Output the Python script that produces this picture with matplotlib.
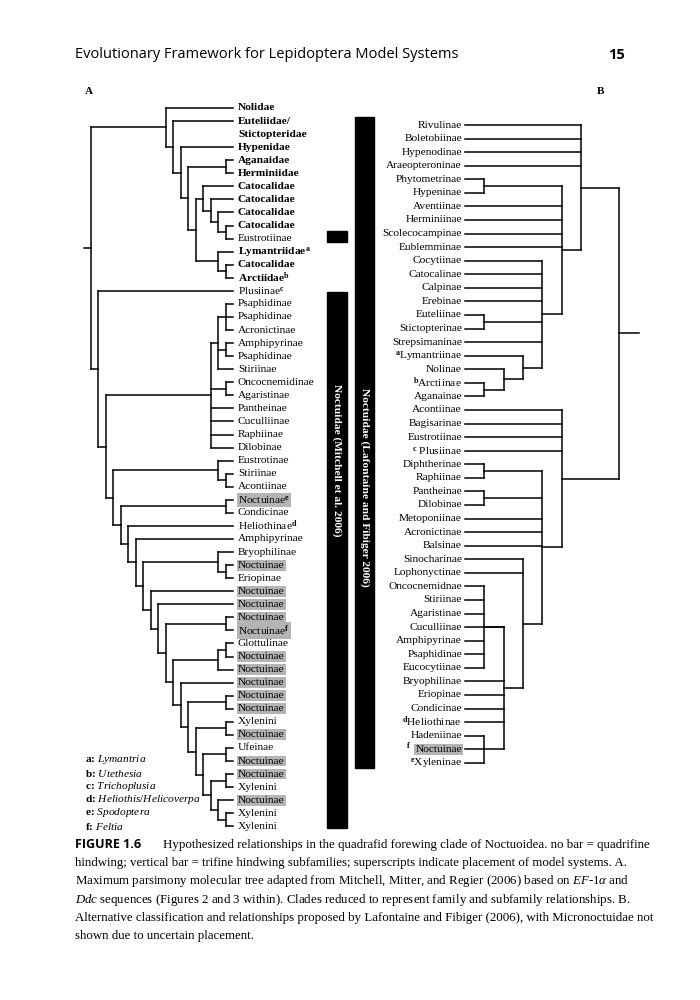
import matplotlib
matplotlib.use("Agg")
import matplotlib.pyplot as plt

plt.rcParams['mathtext.fontset'] = 'custom'
plt.rcParams['mathtext.rm'] = 'Liberation Serif'
plt.rcParams['mathtext.it'] = 'Liberation Serif:italic'
plt.rcParams['mathtext.bf'] = 'Liberation Serif:bold'

SERIF = 'Liberation Serif'

# ---------------- data: tree A (Mitchell et al. 2006) ----------------
labels_a = ["Nolidae", "Euteliidae/", "Stictopteridae", "Hypenidae", "Aganaidae", "Herminiidae",
            "Catocalidae", "Catocalidae", "Catocalidae", "Catocalidae", "Eustrotiinae",
            r"Lymantriidae$^{\mathbf{a}}$", "Catocalidae", r"Arctiidae$^{\mathbf{b}}$",
            r"Plusiinae$^{\mathbf{c}}$", "Psaphidinae", "Psaphidinae", "Acronictinae", "Amphipyrinae",
            "Psaphidinae", "Stiriinae", "Oncocnemidinae", "Agaristinae", "Pantheinae", "Cuculliinae",
            "Raphiinae", "Dilobinae", "Eustrotinae", "Stiriinae", "Acontiinae",
            r"Noctuinae$^{\mathbf{e}}$", "Condicinae", r"Heliothinae$^{\mathbf{d}}$", "Amphipyrinae",
            "Bryophilinae", "Noctuinae", "Eriopinae", "Noctuinae", "Noctuinae", "Noctuinae",
            r"Noctuinae$^{\mathbf{f}}$", "Glottulinae", "Noctuinae", "Noctuinae", "Noctuinae",
            "Noctuinae", "Noctuinae", "Xylenini", "Noctuinae", "Ufeinae", "Noctuinae", "Noctuinae",
            "Xylenini", "Noctuinae", "Xylenini", "Xylenini"]
bold_a = set(range(0, 14)) - {10}
gray_a = {30, 35, 37, 38, 39, 40, 42, 43, 44, 45, 46, 48, 50, 51, 53}

clade1 = [0, [1, [3, [[4, 5], [[6, [7, [8, [9, 10]]]], [11, [12, 13]]]]]]]
g15 = [[[15, 16, 17], [18, 19], 20], [21, 22], 23, 24, 25, 26]
P = [53, [54, 55]]
O = [[51, 52], P]
N = [[49, 50], O]
M = [[47, 48], N]
L = [[45, 46], M]
K = [44, L]
J = [[[41, 42], 43], K]
I = [[39, 40], J]
H = [38, I]
G = [37, H]
F = [[34, [35, 36]], G]
E = [33, F]
D = [32, E]
C = [[30, 31], D]
B = [[27, [28, 29]], C]
A = [g15, B]
clade2 = [14, A]
tree_a = [clade1, clade2]

# ---------------- data: tree B (Lafontaine & Fibiger 2006) ----------------
labels_b = ["Rivulinae", "Boletobiinae", "Hypenodinae", "Araeopteroninae", "Phytometrinae", "Hypeninae",
            "Aventiinae", "Herminiinae", "Scolecocampinae", "Eublemminae", "Cocytiinae", "Catocalinae",
            "Calpinae", "Erebinae", "Euteliinae", "Stictopterinae", "Strepsimaninae",
            r"$^{\mathbf{a}}$Lymantriinae", "Nolinae", r"$^{\mathbf{b}}$Arctiinae", "Aganainae",
            "Acontiinae", "Bagisarinae", "Eustrotiinae", r"$^{\mathbf{c}}$ Plusiinae", "Diphtherinae",
            "Raphiinae", "Pantheinae", "Dilobinae", "Metoponiinae", "Acronictinae", "Balsinae",
            "Sinocharinae", "Lophonyctinae", "Oncocnemidnae", "Stiriinae", "Agaristinae", "Cuculliinae",
            "Amphipyrinae", "Psaphidinae", "Eucocytiinae", "Bryophilinae", "Eriopinae", "Condicinae",
            r"$^{\mathbf{d}}$Heliothinae", "Hadeniinae", r"$^{\mathbf{f}}$", r"$^{\mathbf{e}}$Xyleninae"]
gray_b = {46}
Zb = [17, [18, [19, 20]]]
Yb = [10, 11, 12, 13, [14, 15], 16, Zb]
Xb = [[4, 5], 6, 7, 8, 9, Yb]
top_b = [0, 1, 2, 3, Xb]
Sb = [34, 35, 36, 38, 39, 40]
Rb = [45, 46, 47]
Tb = [37, Sb, 41, 42, 43, 44, Rb]
Ub = [32, 33, Tb]
Vb = [[25, 26], [27, 28], 29, 30, 31, Ub]
Qb = [21, 22, 23, 24, Vb]
tree_b = [top_b, Qb]

footnotes = [("a", "Lymantria"), ("b", "Utethesia"), ("c", "Trichoplusia"),
             ("d", "Heliothis/Helicoverpa"), ("e", "Spodoptera"), ("f", "Feltia")]

caption = [
    r"Hypothesized relationships in the quadrafid forewing clade of Noctuoidea. no bar = quadrifine",
    r"hindwing; vertical bar = trifine hindwing subfamilies; superscripts indicate placement of model systems. A.",
    r"Maximum parsimony molecular tree adapted from Mitchell, Mitter, and Regier (2006) based on $\it{EF}$-$\it{1\alpha}$ and",
    r"$\it{Ddc}$ sequences (Figures 2 and 3 within). Clades reduced to represent family and subfamily relationships. B.",
    r"Alternative classification and relationships proposed by Lafontaine and Fibiger (2006), with Micronoctuidae not",
    r"shown due to uncertain placement.",
]

# ---------------- figure ----------------
fig = plt.figure(figsize=(7, 10), dpi=100)
ax = fig.add_axes([0, 0, 1, 1])
ax.set_xlim(0, 700)
ax.set_ylim(1000, 0)
ax.axis('off')
LW = 1.1


def draw_tree(ax, tree, ypos, tip, step, root_extra=0, stub=7):
    def rec(node):
        if isinstance(node, int):
            return ypos(node), 0
        res = [rec(c) for c in node]
        h = max(r[1] for r in res) + 1
        ys = [r[0] for r in res]
        x = tip + h * step
        ax.plot([x, x], [min(ys), max(ys)], color='black', lw=LW, solid_capstyle='projecting')
        for (cy, ch) in res:
            ax.plot([x, tip + ch * step], [cy, cy], color='black', lw=LW)
        return (min(ys) + max(ys)) / 2, h
    res = [rec(c) for c in tree]
    h = max(r[1] for r in res) + 1 + root_extra
    ys = [r[0] for r in res]
    x = tip + h * step
    ax.plot([x, x], [min(ys), max(ys)], color='black', lw=LW)
    for (cy, ch) in res:
        ax.plot([x, tip + ch * step], [cy, cy], color='black', lw=LW)
    ry = (min(ys) + max(ys)) / 2
    ax.plot([x, x + (stub if step > 0 else -stub)], [ry, ry], color='black', lw=LW)


# tree A
ya = lambda i: 108 + i * 13.06
draw_tree(ax, tree_a, ya, 233, -7.5)
for i, lab in enumerate(labels_a):
    kw = dict(fontsize=8.2, family=SERIF, va='center', ha='left',
              fontweight='bold' if i in bold_a else 'normal')
    if i in gray_a:
        kw['bbox'] = dict(boxstyle='square,pad=0.08', fc='#b4b4b4', ec='none')
    ax.text(238, ya(i), lab, **kw)

# tree B
yb = lambda i: 125 + i * 13.57
draw_tree(ax, tree_b, yb, 465, 19.3, root_extra=1, stub=20)
for i, lab in enumerate(labels_b):
    if i == 46:
        ax.text(462, yb(i), "Noctuinae", fontsize=8.2, family=SERIF, va='center', ha='right',
                bbox=dict(boxstyle='square,pad=0.08', fc='#b4b4b4', ec='none'))
        ax.text(411, yb(i) - 3, lab, fontsize=8.2, family=SERIF, va='center', ha='right')
    else:
        ax.text(462, yb(i), lab, fontsize=8.2, family=SERIF, va='center', ha='right')

# bars
ax.add_patch(plt.Rectangle((327, 231), 20, 11, color='black'))
ax.add_patch(plt.Rectangle((327, 292), 20, 536, color='black'))
ax.text(337, 292 + 536 / 2 - 100, "Noctuidae (Mitchell et al. 2006)", rotation=-90, color='white',
        fontsize=8.2, family=SERIF, fontweight='bold', ha='center', va='center')
ax.add_patch(plt.Rectangle((355, 117), 19, 651, color='black'))
ax.text(364.5, 117 + 651 / 2 + 45, "Noctuidae (Lafontaine and Fibiger 2006)", rotation=-90, color='white',
        fontsize=8.2, family=SERIF, fontweight='bold', ha='center', va='center')

# footnotes
for k, (letter, genus) in enumerate(footnotes):
    ax.text(85, 760 + k * 13.2, letter + ": " + r"$\mathbf{\it{" + genus.replace("/", "/") + "}}$",
            fontsize=8.2, family=SERIF, fontweight='bold', va='center', ha='left')

# header
ax.text(75, 55, "Evolutionary Framework for Lepidoptera Model Systems", fontsize=10.5,
        family='Open Sans', va='center', ha='left')
ax.text(625, 55, "15", fontsize=10.5, family='Open Sans', fontweight='bold', va='center', ha='right')
ax.text(85, 92, "A", fontsize=8, family=SERIF, fontweight='bold', va='center')
ax.text(597, 92, "B", fontsize=8, family=SERIF, fontweight='bold', va='center')

# caption
for k, line in enumerate(caption):
    x0 = 75
    if k == 0:
        ax.text(75, 845, "FIGURE 1.6", fontsize=9, family='Open Sans', fontweight='bold', va='center')
        x0 = 163
    ax.text(x0, 845 + k * 18.2, line, fontsize=9.3, family=SERIF, va='center', ha='left')

fig.savefig("out.png", dpi=100)
